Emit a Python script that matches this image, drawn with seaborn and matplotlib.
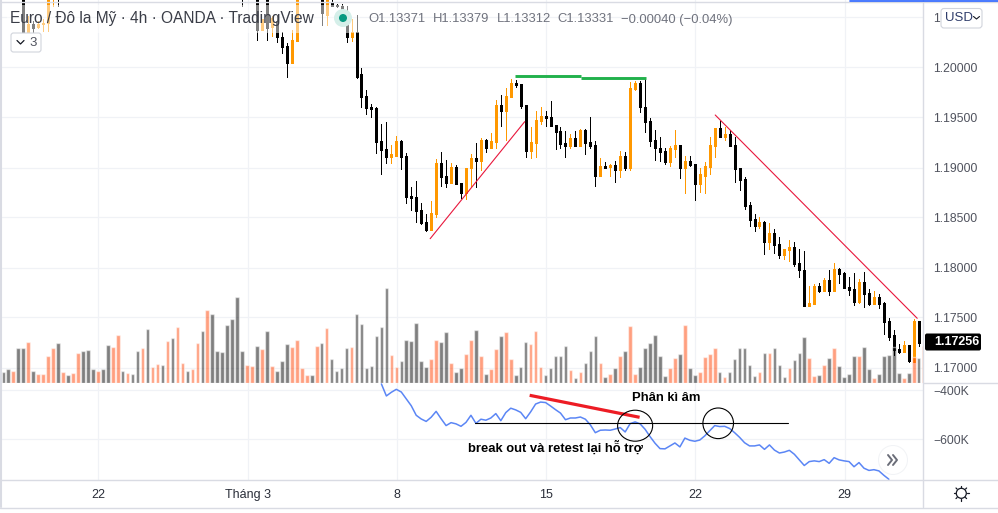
import matplotlib
matplotlib.use("Agg")
import matplotlib.pyplot as plt
import seaborn as sns
import pandas as pd
from matplotlib.patches import Circle, Ellipse, FancyBboxPatch, Rectangle

# EUR/USD 4h, prices kept as pips above 1.16
PRICE_BASE = 1.16

candle_bar = [*range(4, 12), 48, *range(51, 60), *range(64, 185)]
candle_open = [472, 435, 444, 440, 444, 445, 470, 472, 472,
               472, 437, 472, 440, 447, 431, 421, 405, 427,
               472, 453, 465, 463, 461, 455, 431, 435, 393, 372, 360, 359, 327, 318, 311, 312, 327,
               312, 272, 271, 257, 246, 237, 253, 305, 292, 285, 301, 285, 274, 299, 310, 307, 328,
               320, 326, 363, 356, 371, 385, 384, 363, 316, 325, 347, 352, 351, 343, 336, 325, 322,
               330, 322, 337, 326, 323, 292, 302, 301, 303, 297, 312, 300, 378, 385, 361, 347, 328,
               320, 316, 306, 318, 323, 299, 307, 304, 284, 292, 301, 322, 339, 331, 333, 323, 299,
               289, 263, 249, 242, 246, 226, 234, 224, 212, 217, 221, 205, 198, 162, 164, 182, 176,
               188, 176, 199, 194, 181, 179, 166, 186, 174, 164, 171, 165, 147, 132, 119, 115, 123,
               106, 147]
candle_high = [475, 452, 447, 447, 449, 475, 475, 475, 475,
               475, 449, 475, 452, 452, 435, 425, 437, 475,
               475, 475, 475, 464, 464, 462, 449, 453, 399, 377, 364, 360, 344, 346, 323, 332, 328,
               314, 281, 287, 265, 253, 267, 309, 315, 308, 305, 303, 285, 300, 313, 325, 330, 329,
               334, 368, 373, 379, 389, 388, 384, 363, 340, 356, 361, 356, 367, 343, 340, 336, 333,
               336, 338, 338, 351, 327, 310, 306, 304, 307, 316, 315, 386, 387, 387, 389, 350, 337,
               331, 320, 322, 337, 323, 312, 312, 304, 299, 306, 331, 339, 347, 340, 337, 331, 300,
               291, 266, 253, 251, 247, 245, 239, 231, 219, 228, 226, 218, 216, 182, 184, 185, 190,
               198, 205, 200, 195, 191, 194, 189, 195, 179, 176, 173, 166, 150, 138, 124, 127, 123,
               149, 147]
candle_low = [431, 424, 435, 439, 436, 436, 462, 462, 462,
              428, 437, 428, 432, 426, 414, 391, 405, 427,
              443, 443, 461, 460, 447, 426, 427, 390, 361, 353, 351, 314, 293, 305, 305, 312, 298,
              265, 257, 246, 244, 236, 237, 251, 282, 281, 285, 284, 270, 269, 282, 281, 297, 315,
              320, 319, 342, 328, 371, 380, 359, 311, 310, 311, 344, 342, 342, 318, 319, 311, 319,
              322, 322, 313, 320, 282, 292, 300, 292, 286, 291, 297, 297, 377, 355, 335, 322, 308,
              307, 304, 302, 311, 290, 274, 302, 268, 275, 274, 293, 311, 331, 328, 322, 286, 277,
              258, 242, 236, 240, 213, 219, 214, 210, 209, 207, 202, 191, 162, 162, 164, 175, 176,
              172, 176, 185, 180, 172, 163, 165, 161, 163, 164, 160, 133, 128, 112, 114, 115, 106,
              106, 122]
candle_close = [434, 444, 439, 444, 445, 472, 472, 470, 470,
                437, 449, 439, 450, 431, 420, 405, 428, 472,
                454, 472, 462, 461, 454, 431, 435, 391, 371, 359, 358, 326, 317, 311, 313, 327, 311,
                271, 270, 256, 245, 237, 254, 305, 291, 285, 301, 284, 274, 300, 310, 307, 328, 320,
                327, 363, 356, 372, 385, 383, 362, 316, 326, 348, 352, 350, 342, 335, 324, 322, 330,
                322, 337, 325, 322, 292, 302, 300, 303, 297, 312, 300, 379, 385, 360, 346, 327, 319,
                315, 306, 319, 323, 299, 307, 303, 284, 293, 302, 323, 339, 331, 333, 322, 298, 288,
                262, 248, 242, 246, 226, 234, 223, 212, 218, 221, 204, 197, 162, 165, 182, 176, 188,
                176, 199, 193, 180, 178, 166, 186, 173, 164, 171, 164, 146, 131, 118, 115, 123, 107,
                147, 125]

volume = [11, 14, 12, 35, 35, 41, 12, 9, 9, 27, 35, 40, 11, 8, 10, 30, 32, 33, 14, 12,
          14, 38, 36, 48, 12, 10, 9, 32, 35, 54, 16, 19, 18, 42, 45, 56, 20, 12, 14, 40,
          52, 73, 69, 32, 31, 58, 64, 86, 32, 18, 17, 37, 34, 52, 17, 12, 22, 39, 36, 43,
          15, 8, 8, 37, 40, 55, 24, 12, 15, 35, 36, 69, 59, 15, 17, 47, 56, 95, 28, 16,
          22, 43, 42, 60, 22, 16, 24, 43, 41, 51, 20, 11, 15, 29, 43, 53, 27, 9, 14, 34,
          47, 51, 24, 8, 16, 41, 39, 52, 16, 8, 15, 27, 27, 37, 13, 5, 11, 20, 32, 47,
          20, 6, 9, 15, 27, 32, 57, 9, 16, 35, 40, 48, 27, 7, 15, 25, 29, 58, 15, 8,
          11, 26, 29, 35, 11, 6, 11, 24, 35, 35, 18, 7, 11, 30, 30, 35, 18, 6, 15, 23,
          30, 46, 25, 7, 8, 18, 25, 35, 17, 6, 9, 27, 27, 36, 14, 5, 9, 27, 28, 36,
          10, 5, 10, 26, 25, 37]
volume_side = ("ggoggogooo" "ogogoogggo" "ggoogoggog" "oogogoogoo" "gogggggggo"
               "ogogogggoo" "oogogogggg" "ogggggggoo" "ggggggoogg" "oggoogogoo"
               "googggooog" "ggggogoggg" "ogogogoogg" "ggggoogogg" "oooogogggg"
               "ggogogggog" "ggoogogogg" "ggoggogggg" "gogogo")

indicator_start = 76
indicator = [-374, -423, -408, -396, -407, -435, -463, -502, -517, -527, -510, -486, -516, -544,
             -532, -537, -547, -531, -502, -535, -518, -522, -513, -495, -524, -491, -473, -480,
             -490, -516, -488, -456, -448, -450, -464, -479, -493, -520, -513, -513, -509, -518,
             -541, -573, -563, -562, -563, -558, -552, -570, -536, -529, -537, -559, -589, -616,
             -638, -639, -627, -615, -631, -595, -604, -608, -603, -586, -565, -544, -548, -547,
             -556, -573, -592, -614, -627, -627, -623, -641, -623, -644, -656, -652, -645, -661,
             -684, -707, -691, -688, -691, -683, -698, -675, -684, -688, -691, -712, -695, -718,
             -727, -724, -729, -747, -763]

price_ticks = [1.17, 1.175, 1.18, 1.185, 1.19, 1.195, 1.2, 1.205]
price_labels = ["1.17000", "1.17500", "1.18000", "1.18500", "1.19000", "1.19500", "1.20000", "1"]
indicator_ticks = [-400, -600]
time_ticks = [19.1, 49.1, 79.1, 109.1, 139.1, 169.1]
time_labels = ["22", "Tháng 3", "8", "15", "22", "29"]

W, H = 998, 513
BLACK = "#000000"
ORANGE = "#ff9800"
GRID = "#f0f2f6"
LINE = "#d9dbe3"
TEXT = "#50535e"


def pane(x0, y0, x1, y1):
    return [x0 / W, 1 - y1 / H, (x1 - x0) / W, (y1 - y0) / H]


sns.set_style("white")
plt.rcParams["font.family"] = ["Liberation Sans", "DejaVu Sans"]

fig = plt.figure(figsize=(W / 100, H / 100), dpi=100)
rect_price = pane(2, 0, 923.5, 383.3)
ax = fig.add_axes(rect_price)
ax_vol = fig.add_axes(rect_price, sharex=ax)
ax_ind = fig.add_axes(pane(2, 383.3, 923.5, 479.5), sharex=ax)
ax_vol.patch.set_alpha(0)

# candles
df = pd.DataFrame({"bar": candle_bar, "open": candle_open, "high": candle_high,
                   "low": candle_low, "close": candle_close})
for col in ["open", "high", "low", "close"]:
    df[col] = PRICE_BASE + df[col] / 10000
df["up"] = df["close"] >= df["open"]
colors = df["up"].map({True: ORANGE, False: BLACK})
ax.vlines(df["bar"], df["low"], df["high"], colors=colors, lw=0.72, zorder=3, antialiased=False)
ax.vlines(df["bar"], df["open"], df["close"], colors=colors, lw=2.0, zorder=3, antialiased=False)

# drawn trend lines
ax.plot([85.8, 104.8], [1.18288, 1.19458], color="#e8173c", lw=0.8, zorder=4)
ax.plot([143.1, 183.7], [1.19525, 1.17492], color="#e8173c", lw=0.8, zorder=4)
ax.plot([102.9, 116.1], [1.19912, 1.19912], color="#22b14c", lw=2.1, zorder=4, solid_capstyle="butt")
ax.plot([116.1, 129.1], [1.19898, 1.19898], color="#22b14c", lw=2.1, zorder=4, solid_capstyle="butt")

ax.set_ylim(1.16842, 1.20675)
ax.set_yticks(price_ticks)
ax.set_yticklabels(price_labels)
ax.yaxis.tick_right()

# volume
vol_df = pd.DataFrame({"bar": range(len(volume)), "volume": volume, "side": list(volume_side)})
sns.barplot(data=vol_df, x="bar", y="volume", hue="side", dodge=False, native_scale=True,
            palette={"g": "#000000", "o": "#ff4000"}, saturation=1, alpha=0.5, width=0.72,
            legend=False, ax=ax_vol)
ax_vol.set_ylim(0, 383.3)
ax_vol.set_yticks([])
ax_vol.set_xlabel("")
ax_vol.set_ylabel("")

# indicator pane
sns.lineplot(x=range(indicator_start, indicator_start + len(indicator)), y=indicator,
             color="#5b86f5", lw=1.1, ax=ax_ind)
ax_ind.plot([94.8, 157.7], [-534.7, -534.7], color="black", lw=0.8, zorder=4)
ax_ind.plot([105.8, 127.9], [-420.4, -510.2], color="#ed1c24", lw=2.3, zorder=4, solid_capstyle="butt")
ax_ind.add_patch(Ellipse((127.0, -544.5), 7.04, 126.5, fill=False, ec="black", lw=0.8, zorder=4))
ax_ind.add_patch(Ellipse((143.7, -534.7), 6.15, 125, fill=False, ec="black", lw=0.8, zorder=4))
ax_ind.text(133.2, -431, "Phân kì âm", ha="center", va="center", fontsize=9.4, fontweight="bold",
            color="black", zorder=5)
ax_ind.text(110.9, -634, "break out và retest lại hỗ trợ", ha="center", va="center", fontsize=9.4,
            fontweight="bold", color="black", zorder=5)
ax_ind.set_ylim(-764.1, -371.4)
ax_ind.set_yticks(indicator_ticks)
ax_ind.set_yticklabels(["−400K", "−600K"])
ax_ind.yaxis.tick_right()
ax_ind.set_xlabel("")
ax_ind.set_ylabel("")

ax.set_xlim((2 - 3.3) / 4.975, (923.5 - 3.3) / 4.975)
for a in [ax, ax_ind]:
    a.set_xticks(time_ticks)
    a.grid(True, color=GRID, lw=0.9)
    a.set_axisbelow(True)
    a.tick_params(axis="y", length=0, pad=6.8, labelsize=8.8, labelcolor=TEXT)
ax.tick_params(axis="x", length=0, labelbottom=False)
ax_vol.tick_params(axis="x", length=0, labelbottom=False)
ax_ind.set_xticklabels(time_labels)
ax_ind.tick_params(axis="x", length=0, pad=6.5, labelsize=9, labelcolor="#2a2e39")
for a in [ax, ax_vol, ax_ind]:
    sns.despine(ax=a, left=True, bottom=True, right=True, top=True)

# overlay in screen pixels for the toolbar bits
ui = fig.add_axes([0, 0, 1, 1], zorder=20)
ui.set_xlim(0, W)
ui.set_ylim(H, 0)
ui.axis("off")
ui.patch.set_alpha(0)

ui.add_patch(Rectangle((7, 5), 353, 28, fc="white", alpha=0.5, ec="none"))
ui.plot([923.5, 923.5], [0, 507], color=LINE, lw=1)
ui.plot([923.5, W], [383.3, 383.3], color=LINE, lw=1)
ui.plot([0, W], [479.5, 479.5], color=LINE, lw=1)
ui.plot([0, W], [507.5, 507.5], color=LINE, lw=1)
ui.plot([0, W], [1.5, 1.5], color=LINE, lw=1)
ui.plot([850, W], [0.7, 0.7], color="#2962ff", lw=1.2)
ui.plot([0.7, 0.7], [0, 507], color=LINE, lw=1.5)

ui.text(10, 18, "Euro / Đô la Mỹ · 4h · OANDA · TradingView", fontsize=11.2, color="#3a3d47", va="center")
ui.add_patch(Circle((343, 18), 9, fc="#d5efe9", ec="none"))
ui.add_patch(Circle((343, 18), 4, fc="#089981", ec="none"))
for x0, txt in zip([368, 433, 497, 557, 621],
                   ["O1.13371", "H1.13379", "L1.13312", "C1.13331", "−0.00040 (−0.04%)"]):
    ui.text(x0, 19.5, txt, fontsize=9.4, color="#6f727d", va="center")

ui.add_patch(FancyBboxPatch((11, 33), 30, 19, boxstyle="round,pad=0,rounding_size=2.5",
                            fc="white", ec="#d1d4dc", lw=0.8))
ui.plot([17, 20.5, 24], [40.5, 44, 40.5], color="#131722", lw=0.9)
ui.text(33.5, 42.5, "3", fontsize=9.5, color=TEXT, ha="center", va="center")

ui.add_patch(FancyBboxPatch((941, 8.5), 41, 19.5, boxstyle="round,pad=0,rounding_size=3",
                            fc="white", ec="#d1d4dc", lw=0.8))
ui.text(945, 18, "USD", fontsize=9.5, color="#2f3d6b", va="center")
ui.plot([973.5, 976.5, 979.5], [16.5, 19, 16.5], color="#131722", lw=0.8)

# last price tag
ui.add_patch(FancyBboxPatch((925, 333.5), 56, 17, boxstyle="round,pad=0,rounding_size=2",
                            fc="black", ec="none"))
ui.text(934, 342, "1.17256", fontsize=9, fontweight="bold", color="white", va="center")

ui.add_patch(Circle((893, 460), 15, fc="#eceef2", ec="none", alpha=0.7))
ui.add_patch(Circle((893, 460), 14, fc="white", ec="none"))
ui.plot([888, 892, 888], [455, 460, 465], color="#6a6d78", lw=1.4)
ui.plot([893, 897, 893], [455, 460, 465], color="#6a6d78", lw=1.4)

ui.add_patch(Circle((961.3, 493.3), 5, fc="white", ec="#131722", lw=0.9))
for dx, dy in [(0, -7.5), (0, 7.5), (-7.5, 0), (7.5, 0), (-5.3, -5.3), (5.3, -5.3), (-5.3, 5.3), (5.3, 5.3)]:
    ui.plot([961.3 + dx * 0.8, 961.3 + dx], [493.3 + dy * 0.8, 493.3 + dy], color="#131722", lw=0.9)

fig.savefig("out.png", dpi=100)
